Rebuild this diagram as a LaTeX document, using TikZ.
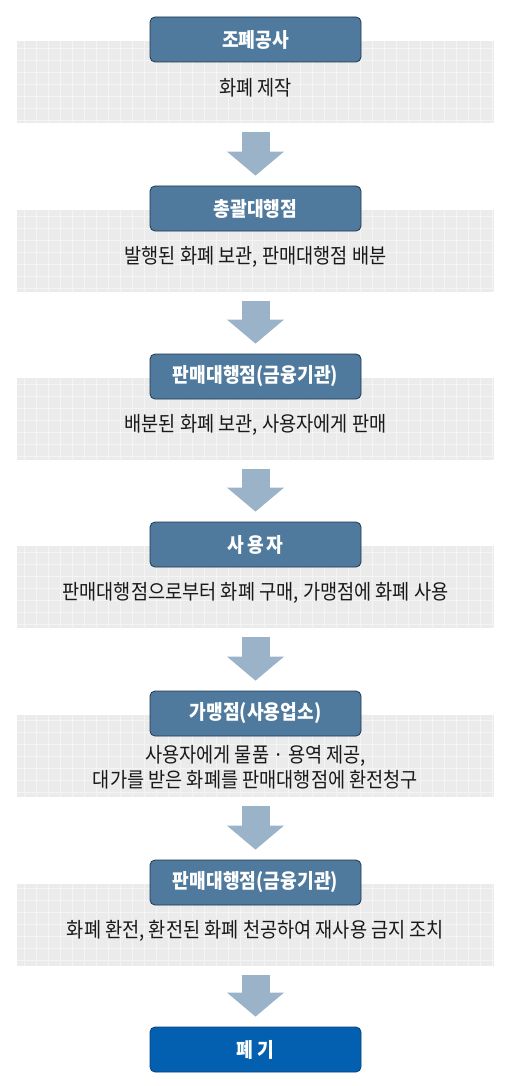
\documentclass[tikz,border=0pt]{standalone}
\usepackage{fontspec}
\newfontfamily\kr[FakeStretch=0.9]{Noto Sans CJK KR}
\usetikzlibrary{arrows.meta,calc}
\definecolor{boxblue}{HTML}{4F7A9D}
\definecolor{boxline}{HTML}{1E3850}
\definecolor{endblue}{HTML}{0360B0}
\definecolor{endline}{HTML}{0A3F7A}
\definecolor{arrowblue}{HTML}{9BB3C8}
\definecolor{bandgray}{HTML}{EBEBEB}
\definecolor{bandline}{HTML}{F4F4F4}

\begin{document}
\begin{tikzpicture}
  [x=1pt,y=-1pt,
   every node/.style={font=\kr\fontsize{20.7}{25}\selectfont},
   stage/.style={rectangle,rounded corners=5pt,draw=boxline,fill=boxblue,line width=0.8pt,
     text=white,minimum width=211pt,minimum height=45pt,inner sep=0pt,
     font=\kr\bfseries\fontsize{20.2}{25}\selectfont},
   band/.style={rectangle,fill=bandgray,minimum width=477pt,minimum height=82pt,inner sep=0pt},
   desc/.style={text=black!90,align=center,inner sep=0pt},
   flow/.style={arrowblue,line width=28pt,-{Triangle[width=57pt,length=24pt,line width=0pt]}}]
  \useasboundingbox (0,0) rectangle (510,1086);

  % background bands
  \node[band] (b1) at (255.5,82)  {};
  \node[band] (b2) at (255.5,251) {};
  \node[band] (b3) at (255.5,419) {};
  \node[band] (b4) at (255.5,587) {};
  \node[band] (b5) at (255.5,756) {};
  \node[band] (b6) at (255.5,925) {};
  \foreach \i in {1,...,6}
    \draw[bandline,line width=0.6pt] (b\i.north west) grid[step=12pt] (b\i.south east);

  % stages
  \node[stage] (n1) at (255.5,39.5)  {조폐공사};
  \node[stage] (n2) at (255.5,208.5) {총괄대행점};
  \node[stage] (n3) at (255.5,376.5) {판매대행점(금융기관)};
  \node[stage] (n4) at (255.5,544.5) {사\hspace{3pt}용\hspace{3pt}자};
  \node[stage] (n5) at (255.5,713.5) {가맹점(사용업소)};
  \node[stage] (n6) at (255.5,882.5) {판매대행점(금융기관)};
  \node[stage,fill=endblue,draw=endline] (n7) at (255.5,1049.5) {폐 기};

  % descriptions
  \node[desc] (t1) at (255.5,88)    {화폐 제작};
  \node[desc] (t2) at (255.5,257)   {발행된 화폐 보관, 판매대행점 배분};
  \node[desc] (t3) at (255.5,425)   {배분된 화폐 보관, 사용자에게 판매};
  \node[desc] (t4) at (255.5,593)   {판매대행점으로부터 화폐 구매, 가맹점에 화폐 사용};
  \node[desc] (t5) at (255.5,767.5) {사용자에게 물품 · 용역 제공,\\대가를 받은 화폐를 판매대행점에 환전청구};
  \node[desc] (t6) at (255.5,931)   {화폐 환전, 환전된 화폐 천공하여 재사용 금지 조치};

  \foreach \from/\to in {b1/n2,b2/n3,b3/n4,b4/n5,b5/n6,b6/n7}
    \draw[flow] ($(\from.south)+(0,9)$) -- ($(\to.north)+(0,-10)$);
\end{tikzpicture}
\end{document}
